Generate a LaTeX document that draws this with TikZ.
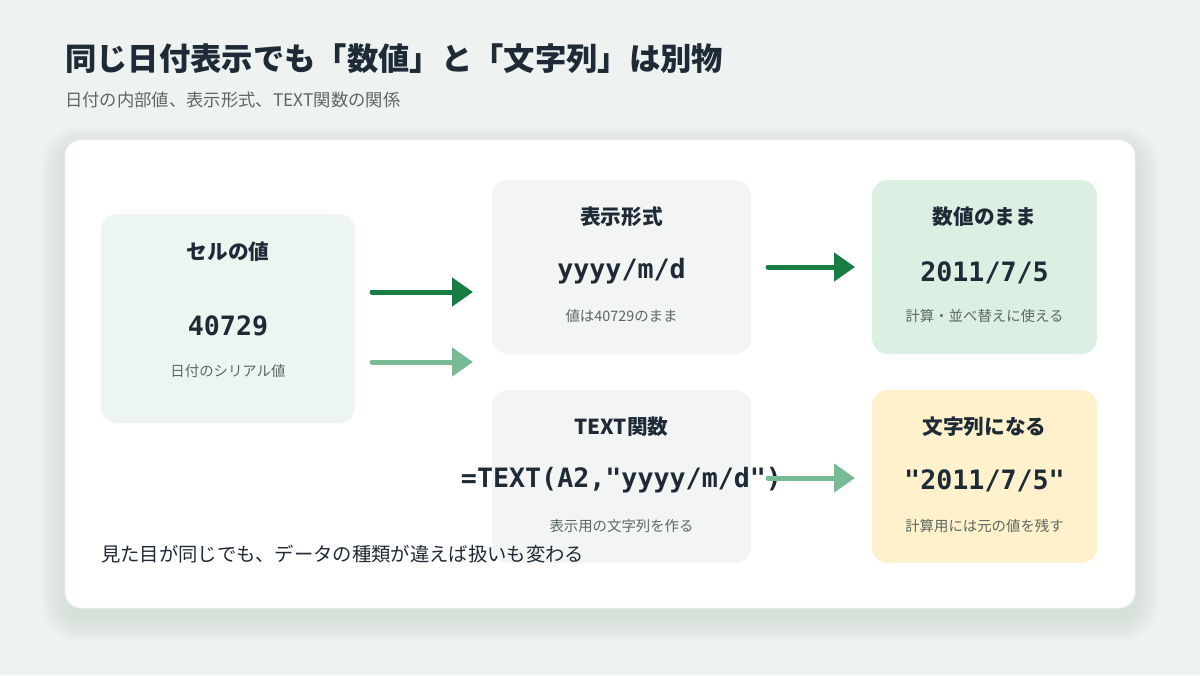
\documentclass[tikz,border=0pt]{standalone}
\usepackage{fontspec}
\setmainfont{Noto Sans CJK JP}
\setmonofont{DejaVu Sans Mono}
\usetikzlibrary{arrows.meta}

\definecolor{pagebg}{HTML}{EEF3F1}
\definecolor{cardshadow}{HTML}{9FB5A8}
\definecolor{ink}{HTML}{1F2A37}
\definecolor{note}{HTML}{5B6861}
\definecolor{cellbg}{HTML}{EDF5F1}
\definecolor{greybg}{HTML}{F3F5F4}
\definecolor{numbg}{HTML}{DCEFE3}
\definecolor{strbg}{HTML}{FEF1CC}
\definecolor{darkflow}{HTML}{177D42}
\definecolor{lightflow}{HTML}{78BA93}

\tikzset{
  panel/.style={rounded corners=12pt, draw=none},
  boxtitle/.style={anchor=base, inner sep=0pt, text=ink, font=\bfseries\fontsize{15.5}{18}\selectfont},
  boxvalue/.style={anchor=base, inner sep=0pt, text=ink, font=\ttfamily\bfseries\fontsize{20}{24}\selectfont},
  boxnote/.style={anchor=base, inner sep=0pt, text=note, font=\fontsize{10.8}{13}\selectfont},
  flow/.style={line width=3.75pt, line cap=round, -{Triangle[length=15.75pt,width=21pt]}},
}

\begin{document}
\begin{tikzpicture}[x=0.75pt,y=0.75pt,yscale=-1,xscale=1]
\useasboundingbox (0,0) rectangle (1200,675);

%Shape: Background
\fill [pagebg] (0,0) rectangle (1200,675);

% Text Node
\node (title) [anchor=base west, inner sep=0pt, text=ink, font=\bfseries\fontsize{23.5}{28}\selectfont] at (65,70) {同じ日付表示でも「数値」と「文字列」は別物};
% Text Node
\node (subtitle) [anchor=base west, inner sep=0pt, text=note, font=\fontsize{13}{16}\selectfont] at (65,106) {日付の内部値、表示形式、TEXT関数の関係};

%Shape: Card shadow
\foreach \s in {2,4,...,24}
  \fill [cardshadow, opacity=0.02, rounded corners=12pt+0.75*\s] (65-\s,140-\s+10) rectangle (1135+\s,608+\s+10);
%Shape: Card
\filldraw [fill=white, draw=cardshadow!15, line width=0.5pt, rounded corners=12pt] (65,140) rectangle (1135,608);

%Shape: Rectangle
\fill [panel, cellbg] (101,214) rectangle (355,423);
%Shape: Rectangle
\fill [panel, greybg] (492,180) rectangle (751,354);
%Shape: Rectangle
\fill [panel, numbg] (872,180) rectangle (1097,354);
%Shape: Rectangle
\fill [panel, greybg] (492,390) rectangle (751,563);
%Shape: Rectangle
\fill [panel, strbg] (872,390) rectangle (1097,563);

% Text Node
\node (cellhead) [boxtitle] at (228,259) {セルの値};
\node (cellvalue) [boxvalue] at (228,335) {40729};
\node (cellnote) [boxnote] at (228,376) {日付のシリアル値};
% Text Node
\node (fmthead) [boxtitle] at (621.5,224) {表示形式};
\node (fmtvalue) [boxvalue] at (621.5,278) {yyyy/m/d};
\node (fmtnote) [boxnote] at (621.5,321) {値は40729のまま};
% Text Node
\node (numhead) [boxtitle] at (984.5,224) {数値のまま};
\node (numvalue) [boxvalue] at (984.5,281) {2011/7/5};
\node (numnote) [boxnote] at (984.5,321) {計算・並べ替えに使える};
% Text Node
\node (funchead) [boxtitle] at (621.5,434) {TEXT関数};
\node (funcvalue) [boxvalue] at (621.5,487) {=TEXT(A2,"yyyy/m/d")};
\node (funcnote) [boxnote] at (621.5,531) {表示用の文字列を作る};
% Text Node
\node (strhead) [boxtitle] at (984.5,434) {文字列になる};
\node (strvalue) [boxvalue] at (984.5,489) {"2011/7/5"};
\node (strnote) [boxnote] at (984.5,531) {計算用には元の値を残す};

%Straight Lines
\coordinate (celltop) at (372,292);
\coordinate (fmtin) at (473,292);
\coordinate (cellbot) at (372,362);
\coordinate (funcin) at (473,362);
\coordinate (fmtout) at (768,267);
\coordinate (numin) at (855,267);
\coordinate (funcout) at (768,478);
\coordinate (strin) at (855,478);
\draw [flow, darkflow] (celltop) -- (fmtin);
\draw [flow, lightflow] (cellbot) -- (funcin);
\draw [flow, darkflow] (fmtout) -- (numin);
\draw [flow, lightflow] (funcout) -- (strin);

% Text Node
\node (footer) [anchor=base west, inner sep=0pt, text=ink, font=\fontsize{14.5}{17}\selectfont] at (101,561) {見た目が同じでも、データの種類が違えば扱いも変わる};

\end{tikzpicture}
\end{document}
